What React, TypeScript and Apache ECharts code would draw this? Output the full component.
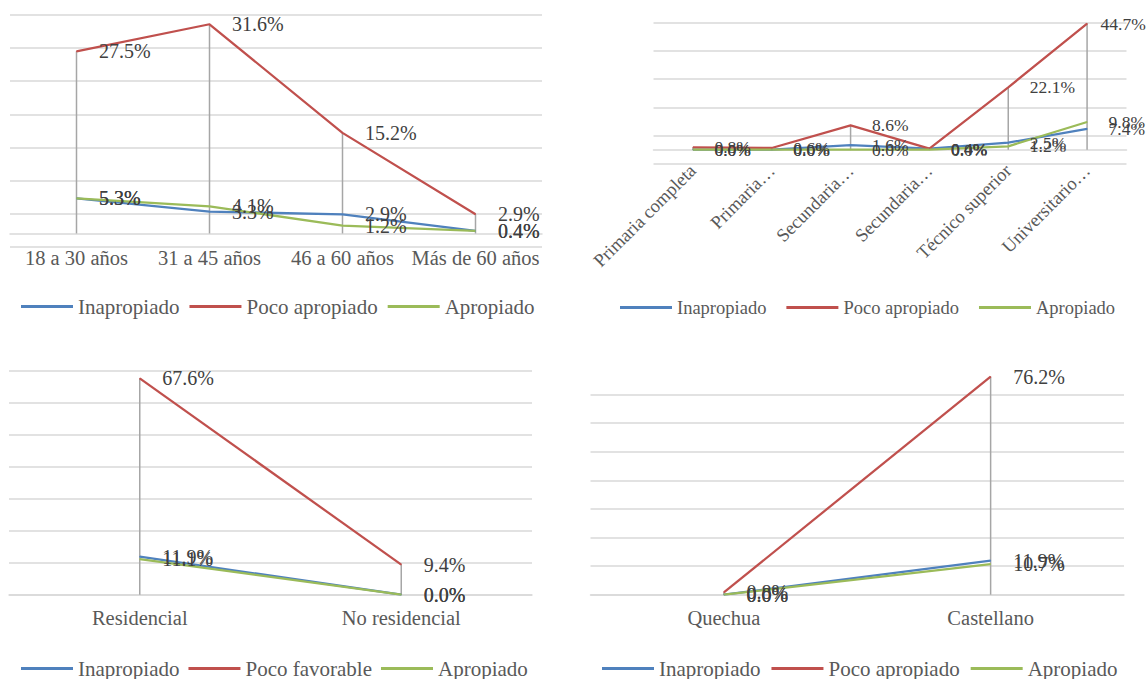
import { useEffect, useRef } from 'react';
import * as echarts from 'echarts';

// Edad
const ageCategories = ['18 a 30 años', '31 a 45 años', '46 a 60 años', 'Más de 60 años'];
const ageInapropiado = [5.3, 3.3, 2.9, 0.4];
const agePocoApropiado = [27.5, 31.6, 15.2, 2.9];
const ageApropiado = [5.3, 4.1, 1.2, 0.4];

// Nivel educativo
const eduCategories = ['Primaria completa', 'Primaria…', 'Secundaria…', 'Secundaria…', 'Técnico superior', 'Universitario…'];
const eduInapropiado = [0.0, 0.0, 1.6, 0.4, 2.5, 7.4];
const eduPocoApropiado = [0.8, 0.6, 8.6, 0.4, 22.1, 44.7];
const eduApropiado = [0.0, 0.0, 0.0, 0.0, 1.2, 9.8];

// Residencia
const resCategories = ['Residencial', 'No residencial'];
const resInapropiado = [11.9, 0.0];
const resPocoFavorable = [67.6, 9.4];
const resApropiado = [11.1, 0.0];

// Lengua materna
const langCategories = ['Quechua', 'Castellano'];
const langInapropiado = [0.0, 11.9];
const langPocoApropiado = [0.8, 76.2];
const langApropiado = [0.0, 10.7];

const BLUE = '#4F81BD';
const RED = '#C0504D';
const GREEN = '#9BBB59';
const FONT = 'Liberation Serif';

type SeriesDef = { name: string; values: number[]; color: string };
type Panel = {
  categories: string[];
  series: SeriesDef[];
  box: { left: number; top: number; width: number; height: number };
  min: number;
  max: number;
  gridMax: number;
  gridInterval: number;
  hideLastGrid?: boolean;
  axisFont: number;
  axisMargin: number;
  rotate?: number;
  labelFont: number;
  labelDistance: number;
  lastRedDistance?: number;
  legendFont: number;
  legendLeft: number;
  legendTop: number;
  legendGap: number;
};

const panels: Panel[] = [
  {
    categories: ageCategories,
    series: [
      { name: 'Inapropiado', values: ageInapropiado, color: BLUE },
      { name: 'Poco apropiado', values: agePocoApropiado, color: RED },
      { name: 'Apropiado', values: ageApropiado, color: GREEN },
    ],
    box: { left: 10, top: 15, width: 532, height: 231.7 },
    min: -2,
    max: 33,
    gridMax: 35,
    gridInterval: 5,
    axisFont: 20.5,
    axisMargin: 14,
    labelFont: 20,
    labelDistance: 22,
    legendFont: 21,
    legendLeft: 21,
    legendTop: 296,
    legendGap: 10,
  },
  {
    categories: eduCategories,
    series: [
      { name: 'Inapropiado', values: eduInapropiado, color: BLUE },
      { name: 'Poco apropiado', values: eduPocoApropiado, color: RED },
      { name: 'Apropiado', values: eduApropiado, color: GREEN },
    ],
    box: { left: 653.5, top: 22.7, width: 473, height: 141.1 },
    min: -5,
    max: 45,
    gridMax: 50,
    gridInterval: 10,
    axisFont: 18.5,
    axisMargin: 18,
    rotate: 45,
    labelFont: 17.5,
    labelDistance: 21,
    lastRedDistance: 13,
    legendFont: 18.5,
    legendLeft: 620,
    legendTop: 298,
    legendGap: 20,
  },
  {
    categories: resCategories,
    series: [
      { name: 'Inapropiado', values: resInapropiado, color: BLUE },
      { name: 'Poco favorable', values: resPocoFavorable, color: RED },
      { name: 'Apropiado', values: resApropiado, color: GREEN },
    ],
    box: { left: 9, top: 370.7, width: 523, height: 224 },
    min: 0,
    max: 70,
    gridMax: 70,
    gridInterval: 10,
    axisFont: 20.5,
    axisMargin: 13,
    labelFont: 20,
    labelDistance: 22,
    legendFont: 21,
    legendLeft: 21,
    legendTop: 658,
    legendGap: 9,
  },
  {
    categories: langCategories,
    series: [
      { name: 'Inapropiado', values: langInapropiado, color: BLUE },
      { name: 'Poco apropiado', values: langPocoApropiado, color: RED },
      { name: 'Apropiado', values: langApropiado, color: GREEN },
    ],
    box: { left: 590.5, top: 365.8, width: 533.5, height: 228.9 },
    min: 0,
    max: 80,
    gridMax: 80,
    gridInterval: 10,
    hideLastGrid: true,
    axisFont: 20.5,
    axisMargin: 13,
    labelFont: 20,
    labelDistance: 22,
    legendFont: 21,
    legendLeft: 602,
    legendTop: 658,
    legendGap: 11,
  },
];

function buildOption() {
  const grid: any[] = [];
  const xAxis: any[] = [];
  const yAxis: any[] = [];
  const series: any[] = [];
  const legend: any[] = [];

  panels.forEach((p, i) => {
    grid.push({ ...p.box, containLabel: false });

    // the category axis sits on the zero line of the value scale
    const zeroOffset = ((0 - p.min) / (p.max - p.min)) * p.box.height;

    xAxis.push({
      type: 'category',
      gridIndex: i,
      data: p.categories,
      boundaryGap: true,
      offset: -zeroOffset,
      axisLine: {
        show: true,
        onZero: false,
        lineStyle: { color: '#d9d9d9', width: 1.5 },
      },
      axisTick: { show: false },
      splitLine: { show: false },
      axisLabel: {
        interval: 0,
        color: '#595959',
        fontFamily: FONT,
        fontSize: p.axisFont,
        margin: p.axisMargin,
        rotate: p.rotate || 0,
      },
    });

    // value axis that positions the data
    yAxis.push({
      type: 'value',
      gridIndex: i,
      min: p.min,
      max: p.max,
      axisLine: { show: false },
      axisTick: { show: false },
      axisLabel: { show: false },
      splitLine: { show: false },
    });

    // companion axis carrying the horizontal gridlines
    const lineCount = p.gridMax / p.gridInterval + 1;
    const gridColors = Array.from({ length: lineCount }, (_, k) =>
      p.hideLastGrid && k === lineCount - 1 ? 'rgba(0,0,0,0)' : '#d9d9d9'
    );
    yAxis.push({
      type: 'value',
      gridIndex: i,
      min: 0,
      max: p.gridMax,
      interval: p.gridInterval,
      axisLine: { show: false },
      axisTick: { show: false },
      axisLabel: { show: false },
      splitLine: { show: true, lineStyle: { color: gridColors, width: 1.5 } },
    });

    // drop lines from the highest point of each category to the axis
    const dropData = p.categories.map((_, k) => [
      k,
      Math.max(...p.series.map((s) => s.values[k])),
    ]);
    series.push({
      type: 'custom',
      xAxisIndex: i,
      yAxisIndex: 2 * i,
      z: 1,
      silent: true,
      data: dropData,
      renderItem: (_params: any, api: any) => {
        const top = api.coord([api.value(0), api.value(1)]);
        const base = api.coord([api.value(0), 0]);
        return {
          type: 'line',
          shape: { x1: top[0], y1: top[1], x2: base[0], y2: base[1] },
          style: { stroke: '#a6a6a6', lineWidth: 1.5 },
        };
      },
    });

    p.series.forEach((s) => {
      const last = s.values.length - 1;
      const data = s.values.map((v, k) =>
        s.color === RED && k === last && p.lastRedDistance != null
          ? { value: v, label: { distance: p.lastRedDistance } }
          : v
      );
      series.push({
        type: 'line',
        name: s.name,
        xAxisIndex: i,
        yAxisIndex: 2 * i,
        data,
        z: 3,
        symbol: 'circle',
        symbolSize: 1,
        showSymbol: true,
        showAllSymbol: true,
        color: s.color,
        itemStyle: { color: s.color },
        lineStyle: { color: s.color, width: 2.25 },
        label: {
          show: true,
          position: 'right',
          distance: p.labelDistance,
          offset: [0, 2],
          color: '#404040',
          fontFamily: FONT,
          fontSize: p.labelFont,
          formatter: (prm: any) => Number(prm.value).toFixed(1) + '%',
        },
        labelLayout: { hideOverlap: false },
      });
    });

    legend.push({
      data: p.series.map((s) => s.name),
      left: p.legendLeft,
      top: p.legendTop,
      orient: 'horizontal',
      icon: 'rect',
      itemWidth: 52,
      itemHeight: 3,
      itemGap: p.legendGap,
      padding: 0,
      selectedMode: false,
      textStyle: { color: '#595959', fontFamily: FONT, fontSize: p.legendFont },
    });
  });

  return {
    animation: false,
    backgroundColor: '#ffffff',
    grid,
    xAxis,
    yAxis,
    series,
    legend,
  };
}

export default function App() {
  const ref = useRef<HTMLDivElement>(null);

  useEffect(() => {
    if (!ref.current) return;
    const chart = echarts.init(ref.current, undefined, { renderer: 'svg' });
    chart.setOption(buildOption() as any);
    return () => chart.dispose();
  }, []);

  return (
    <div
      ref={ref}
      style={{ position: 'fixed', left: 0, top: 0, width: 1148, height: 679, background: '#fff' }}
    />
  );
}
